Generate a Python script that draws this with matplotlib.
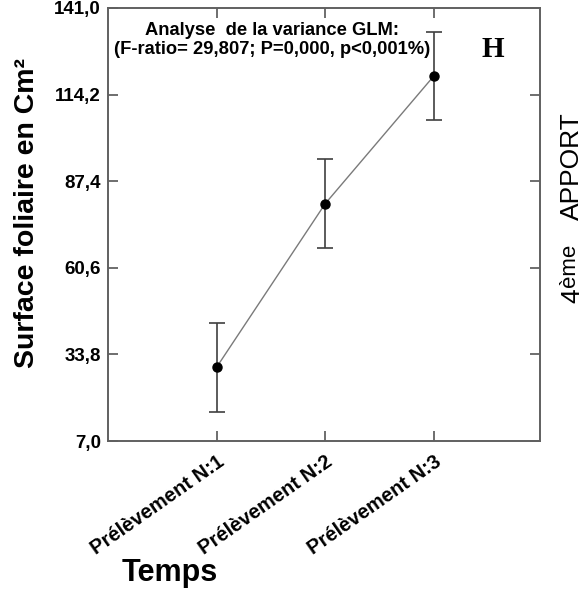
import matplotlib
matplotlib.use("Agg")
import matplotlib.pyplot as plt

categories = ['Prélèvement N:1', 'Prélèvement N:2', 'Prélèvement N:3']
means = [29.8, 80.4, 119.9]
errors = [13.7, 13.8, 13.7]
yticks = [7.0, 33.8, 60.6, 87.4, 114.2, 141.0]
ytick_labels = ['7,0', '33,8', '60,6', '87,4', '114,2', '141,0']

plt.rcParams['font.family'] = ['Liberation Sans', 'DejaVu Sans']

fig = plt.figure(figsize=(5.87, 5.91), dpi=100)
ax = fig.add_axes([0.184, 0.2538, 0.736, 0.7327])

x = [1, 2, 3]
ax.plot(x, means, color='#7a7a7a', lw=1.0, zorder=2)
ax.errorbar(x, means, yerr=errors, fmt='none', ecolor='#404040',
            elinewidth=1.2, capsize=5.5, capthick=1.2, zorder=3)
ax.plot(x, means, 'o', color='black', markersize=6.5, zorder=4)

ax.set_xlim(0.0, 3.98)
ax.set_ylim(7.0, 141.0)
ax.set_yticks(yticks)
ax.set_yticklabels(ytick_labels, fontsize=13.5, fontweight='bold')
ax.set_xticks(x)
ax.set_xticklabels(categories, fontsize=14.5, fontweight='bold', rotation=35,
                   ha='right', va='top', rotation_mode='anchor')
ax.tick_params(direction='in', length=7, width=1.2, color='#555555',
               top=True, right=True)
ax.tick_params(axis='x', pad=8)
ax.tick_params(axis='y', pad=5)
for s in ax.spines.values():
    s.set_color('#606060')
    s.set_linewidth(1.4)

ax.text(0.38, 0.948, 'Analyse  de la variance GLM:', transform=ax.transAxes,
        ha='center', va='center', fontsize=13.2, fontweight='bold')
ax.text(0.38, 0.903, '(F-ratio= 29,807; P=0,000, p<0,001%)', transform=ax.transAxes,
        ha='center', va='center', fontsize=13.2, fontweight='bold')
ax.text(0.89, 0.903, 'H', transform=ax.transAxes, ha='center', va='center',
        fontsize=21, fontweight='bold', family='Liberation Serif')

fig.text(0.046, 0.64, 'Surface foliaire en Cm²', rotation=90, ha='center', va='center',
         fontsize=20.5, fontweight='bold')
fig.text(0.29, 0.031, 'Temps', ha='center', va='center', fontsize=22, fontweight='bold')

fig.text(0.9864, 0.4873, '4', rotation=90, rotation_mode='anchor',
         ha='left', va='baseline', fontsize=19)
fig.text(0.9796, 0.5144, 'ème', rotation=90, rotation_mode='anchor',
         ha='left', va='baseline', fontsize=16)
fig.text(0.9864, 0.6277, 'APPORT', rotation=90, rotation_mode='anchor',
         ha='left', va='baseline', fontsize=19)

fig.savefig('out.png', dpi=100)
